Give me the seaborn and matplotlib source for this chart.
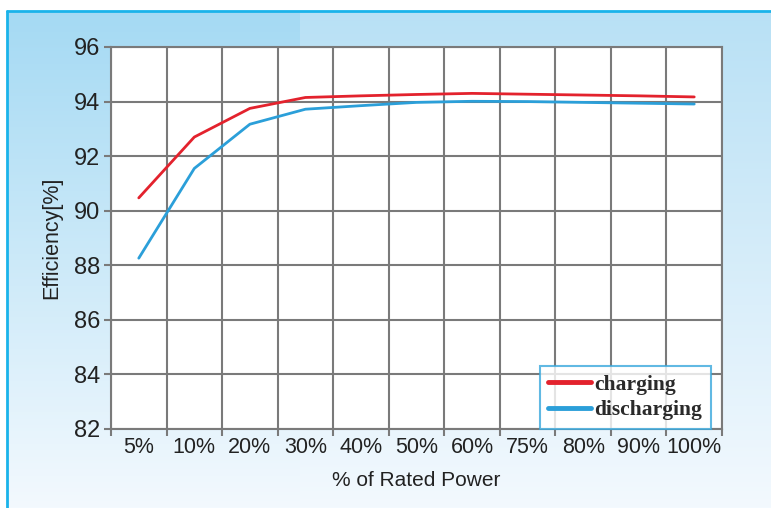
import numpy as np
import pandas as pd
import matplotlib
matplotlib.use("Agg")
import matplotlib.pyplot as plt
import seaborn as sns
from matplotlib.ticker import FixedLocator

power = ["5%", "10%", "20%", "30%", "40%", "50%", "60%", "75%", "80%", "90%", "100%"]
charging = [90.47, 92.70, 93.75, 94.15, 94.21, 94.26, 94.30, 94.27, 94.24, 94.21, 94.17]
discharging = [88.26, 91.55, 93.17, 93.72, 93.85, 93.97, 94.01, 94.00, 93.97, 93.94, 93.91]

df = pd.DataFrame({"power": power * 2,
                   "eff": charging + discharging,
                   "mode": ["charging"] * len(power) + ["discharging"] * len(power)})

sns.set_style("white")
plt.rcParams["font.family"] = ["Liberation Sans", "DejaVu Sans"]

fig = plt.figure(figsize=(7.71, 5.08), dpi=100)

# gradient background panel
bg = fig.add_axes([0, 0, 1, 1], zorder=0)
h, w = 508, 771
top = np.array([183, 224, 245]) / 255
bot = np.array([243, 249, 254]) / 255
t = np.linspace(0, 1, h)[:, None, None]
img = top * (1 - t) + bot * t
img = np.repeat(img, w, axis=1)
left_top = np.array([163, 217, 243]) / 255
left = left_top * (1 - t) + bot * t
img[:, :300, :] = np.repeat(left, 300, axis=1)
img[:11, :, :] = 1.0
img[:, :7, :] = 1.0
bg.imshow(img, aspect="auto", extent=[0, w, h, 0])
bg.plot([7, w], [11, 11], color="#1ab3ea", lw=2)
bg.plot([7, 7], [11, h], color="#1ab3ea", lw=2)
bg.set_xlim(0, w)
bg.set_ylim(h, 0)
bg.axis("off")

ax = fig.add_axes([111 / 771, 1 - 429 / 508, 611 / 771, 382 / 508], zorder=1)
ax.set_facecolor("white")
palette = {"charging": "#e3222d", "discharging": "#2b9fd9"}
sns.lineplot(data=df, x="power", y="eff", hue="mode", palette=palette,
             linewidth=2, ax=ax, sort=False)

ax.set_xlim(-0.5, len(power) - 0.5)
ax.set_ylim(82, 96)
ax.set_yticks(np.arange(82, 97, 2))
ax.set_xticks(range(len(power)))
ax.set_xticklabels(power)
ax.xaxis.set_minor_locator(FixedLocator(np.arange(-0.5, len(power), 1)))
ax.tick_params(axis="x", which="major", length=0, labelsize=15.5, pad=6, colors="#222222")
ax.tick_params(axis="x", which="minor", length=5, width=1.5, color="#7a7a7a", bottom=True)
ax.tick_params(axis="y", length=5, width=1.5, color="#7a7a7a", labelsize=17, left=True,
               labelcolor="#222222", pad=3)
ax.grid(True, axis="y", which="major", color="#7a7a7a", lw=1.5)
ax.grid(True, axis="x", which="minor", color="#7a7a7a", lw=1.5)
ax.grid(False, axis="x", which="major")
for s in ax.spines.values():
    s.set_color("#7a7a7a")
    s.set_linewidth(1.5)

ax.set_xlabel("% of Rated Power", fontsize=15, labelpad=9, color="#222222")
ax.set_ylabel("Efficiency[%]", fontsize=15.5, labelpad=8, color="#222222")

leg = ax.legend(loc="lower right", bbox_to_anchor=(0.982, 0.0), frameon=True, fancybox=False,
                prop={"family": "Liberation Serif", "weight": "bold", "size": 15.5},
                handlelength=2.0, handletextpad=0.15, borderpad=0.4, labelspacing=0.25,
                borderaxespad=0)
leg.get_frame().set_edgecolor("#3aa8dc")
leg.get_frame().set_linewidth(1.5)
for line in leg.get_lines():
    line.set_linewidth(3.5)
for txt in leg.get_texts():
    txt.set_color("#2a2a2a")

fig.savefig("out.png", dpi=100)
